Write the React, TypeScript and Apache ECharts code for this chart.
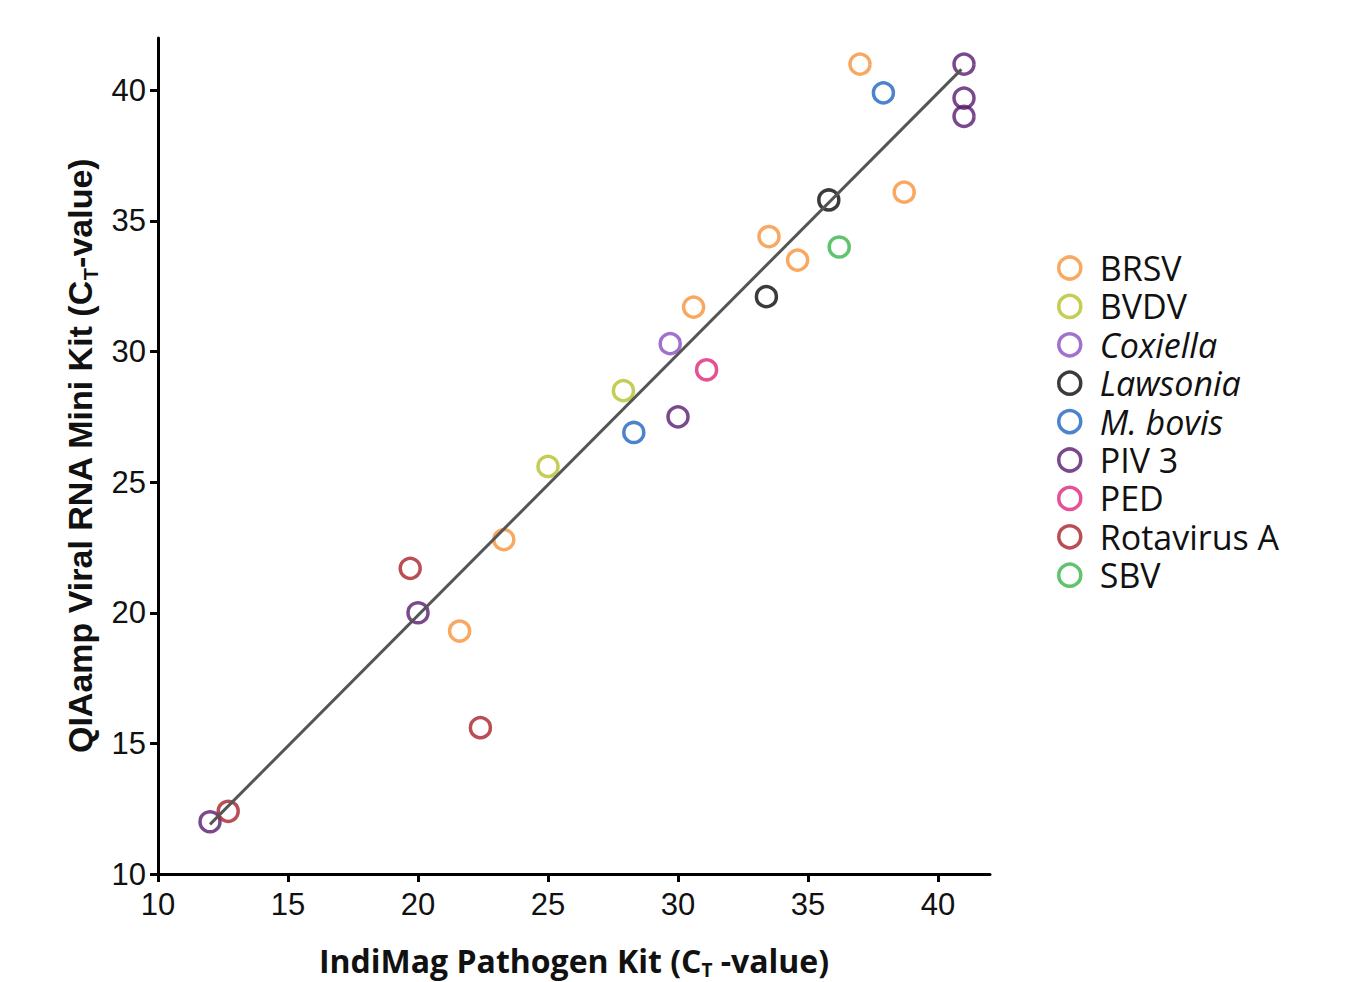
import React, { useEffect, useRef } from "react";
import * as echarts from "echarts";

// ---- data (IndiMag CT, QIAamp CT) ----
const seriesNames = ["BRSV", "BVDV", "Coxiella", "Lawsonia", "M. bovis", "PIV 3", "PED", "Rotavirus A", "SBV"];
const seriesColors = ["#F7923A", "#B5C02A", "#8A4FBE", "#0A0A0A", "#1F64C0", "#581C70", "#E0267A", "#A8232A", "#38B448"];
const italicNames = ["Coxiella", "Lawsonia", "M. bovis"];

const brsv = [[37.0, 41.0], [38.7, 36.1], [33.5, 34.4], [34.6, 33.5], [30.6, 31.7], [23.3, 22.8], [21.6, 19.3]];
const bvdv = [[27.9, 28.5], [25.0, 25.6]];
const coxiella = [[29.7, 30.3]];
const lawsonia = [[35.8, 35.8], [33.4, 32.1]];
const mbovis = [[37.9, 39.9], [28.3, 26.9]];
const piv3 = [[41.0, 41.0], [41.0, 39.7], [41.0, 39.0], [30.0, 27.5], [20.0, 20.0], [12.0, 12.0]];
const ped = [[31.1, 29.3]];
const rotavirusA = [[19.7, 21.7], [22.4, 15.6], [12.7, 12.4]];
const sbv = [[36.2, 34.0]];
const seriesData = [brsv, bvdv, coxiella, lawsonia, mbovis, piv3, ped, rotavirusA, sbv];

const fitLine = [[12.0, 11.9], [40.9, 40.8]];
const tickValues = [10, 15, 20, 25, 30, 35, 40];

export default function App() {
  const ref = useRef<HTMLDivElement>(null);
  useEffect(() => {
    document.body.style.margin = "0";
    const chart = echarts.init(ref.current!, null, { renderer: "svg" });
    const scatter = seriesNames.map((name, i) => ({
      name,
      type: "scatter",
      data: seriesData[i],
      symbol: "circle",
      symbolSize: 20,
      itemStyle: { color: "rgba(255,255,255,0)", borderColor: seriesColors[i], borderWidth: 3.5 },
      z: 2,
    }));
    const axisCommon = {
      type: "value",
      min: 10,
      max: 42,
      interval: 5,
      splitLine: { show: false },
      axisLine: { show: true, lineStyle: { color: "#000", width: 3 } },
      axisTick: { show: true, length: 8, lineStyle: { color: "#000", width: 3 }, customValues: tickValues },
      axisLabel: { customValues: tickValues, color: "#111", fontFamily: "Liberation Sans", fontSize: 31 },
    };
    chart.setOption({
      animation: false,
      backgroundColor: "#fff",
      grid: { left: 158, right: 364, top: 38, bottom: 108, containLabel: false, outerBoundsMode: "none" },
      xAxis: {
        ...axisCommon,
        axisLabel: { ...axisCommon.axisLabel, margin: 15 },
        name: "IndiMag Pathogen Kit (C{sub|T} -value)",
        nameLocation: "middle",
        nameGap: 68,
        nameTextStyle: {
          fontFamily: "Open Sans",
          fontWeight: "bold",
          fontSize: 32,
          color: "#111",
          rich: {
            sub: { fontFamily: "Open Sans", fontWeight: "bold", fontSize: 19, color: "#111", padding: [18, 0, 0, 0] },
          },
        },
      },
      yAxis: {
        ...axisCommon,
        axisLabel: { ...axisCommon.axisLabel, margin: 12 },
        name: "QIAamp Viral RNA Mini Kit (C{sub|T}-value)",
        nameLocation: "middle",
        nameGap: 50,
        nameTextStyle: {
          fontFamily: "Liberation Sans",
          fontWeight: "bold",
          fontSize: 34,
          color: "#111",
          rich: {
            sub: { fontFamily: "Liberation Sans", fontWeight: "bold", fontSize: 20, color: "#111", padding: [22, 0, 0, 0] },
          },
        },
      },
      legend: {
        orient: "vertical",
        left: 1052,
        top: 246,
        itemWidth: 22,
        itemHeight: 22,
        itemGap: 4.4,
        icon: "circle",
        data: seriesNames,
        itemStyle: { borderWidth: 3.5 },
        formatter: (name: string) => (italicNames.includes(name) ? `{i|${name}}` : `{n|${name}}`),
        textStyle: {
          padding: [0, 0, 0, 14],
          rich: {
            n: { fontFamily: "Open Sans", fontSize: 34, color: "#111", lineHeight: 34 },
            i: { fontFamily: "Open Sans", fontStyle: "italic", fontSize: 34, color: "#111", lineHeight: 34 },
          },
        },
      },
      series: [
        ...scatter,
        {
          name: "fit",
          type: "line",
          data: fitLine,
          symbol: "none",
          lineStyle: { color: "#555", width: 3 },
          z: 3,
          silent: true,
        },
      ],
    });
    return () => chart.dispose();
  }, []);
  return <div ref={ref} style={{ width: 1354, height: 982 }} />;
}
